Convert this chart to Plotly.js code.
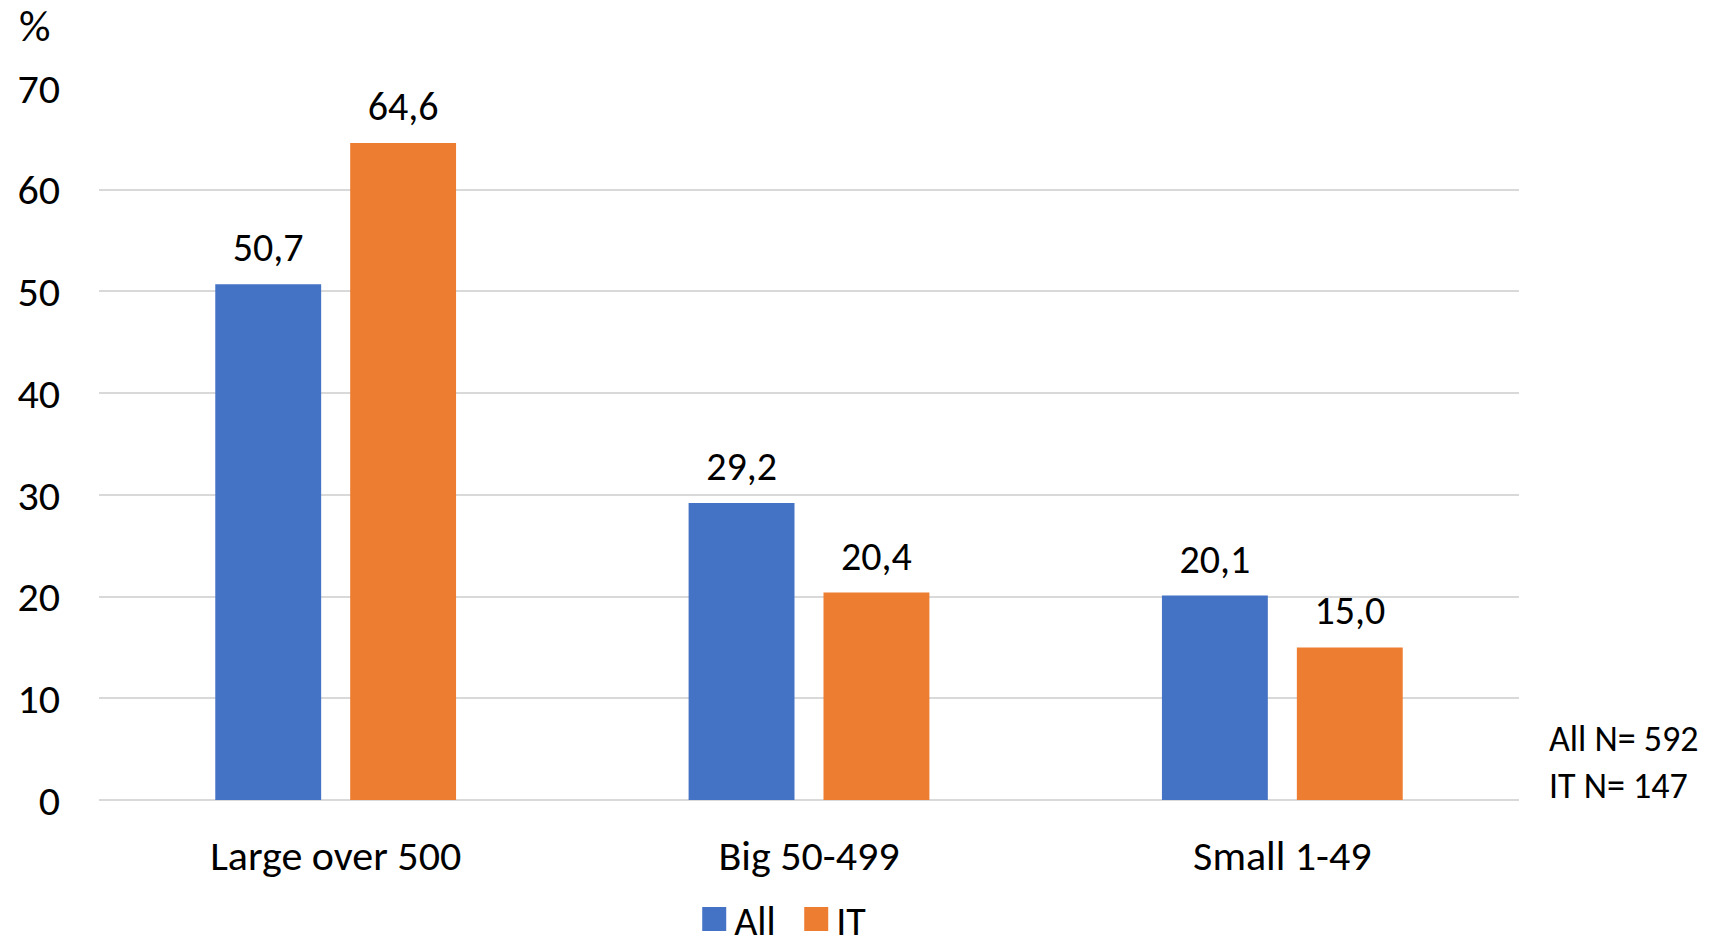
<!DOCTYPE html>
<html>
<head>
<meta charset="utf-8">
<script src="https://cdn.plot.ly/plotly-3.0.1.min.js"></script>
<style>html,body{margin:0;padding:0;background:#fff;}#chart{width:1709px;height:946px;}</style>
</head>
<body>
<div id="chart"></div>
<script>
const categories = ["Large over 500", "Big 50-499", "Small 1-49"];
const allValues = [50.7, 29.2, 20.1];
const itValues = [64.6, 20.4, 15.0];
const seriesNames = ["All", "IT"];
const yTicks = [0, 10, 20, 30, 40, 50, 60, 70];
const noteText = "All N= 592<br>IT N= 147";

const FONT = "Carlito, Calibri, Lato, 'Open Sans', sans-serif";
const FS = 42;
const traces = [
  {type: "bar", name: seriesNames[0], x: categories, y: allValues,
   marker: {color: "#4472C4"}, texttemplate: "%{y:.1f}", textposition: "outside",
   cliponaxis: false, textfont: {size: 40, color: "#000", family: FONT}},
  {type: "bar", name: seriesNames[1], x: categories, y: itValues,
   marker: {color: "#ED7D31"}, texttemplate: "%{y:.1f}", textposition: "outside",
   cliponaxis: false, textfont: {size: 40, color: "#000", family: FONT}}
];
const layout = {
  width: 1709, height: 946,
  separators: ", ",
  margin: {l: 99, r: 190, t: 88, b: 146, autoexpand: false},
  paper_bgcolor: "#fff", plot_bgcolor: "#fff",
  font: {family: FONT, size: FS, color: "#000"},
  barmode: "group", bargap: 0.43, bargroupgap: 0.215,
  showlegend: true,
  legend: {orientation: "h", x: 0.491, xanchor: "center", y: -0.167, yanchor: "middle",
           entrywidth: 57, font: {size: 40, family: FONT}, traceorder: "normal"},
  xaxis: {type: "category", showgrid: false, showline: false, ticks: "", automargin: false,
          ticklabelstandoff: 27, tickfont: {size: FS, family: FONT}},
  yaxis: {range: [0, 70], tickvals: yTicks, showgrid: true, gridcolor: "#d9d9d9", gridwidth: 2,
          zeroline: true, zerolinecolor: "#d9d9d9", zerolinewidth: 2, showline: false, automargin: false,
          ticks: "", ticklabelstandoff: 38, tickfont: {size: FS, family: FONT}},
  annotations: [
    {text: "%", xref: "paper", yref: "paper", x: -0.058, y: 1.087, xanchor: "left", yanchor: "middle",
     showarrow: false, font: {size: 44, family: FONT}},
    {text: noteText, xref: "paper", yref: "paper", x: 1.02, y: 0.053, xanchor: "left", yanchor: "middle",
     align: "left", showarrow: false, font: {size: 36, family: FONT}}
  ]
};
Plotly.newPlot("chart", traces, layout, {displayModeBar: false, staticPlot: true}).then(function (gd) {
  gd.querySelectorAll(".legendpoints path").forEach(function (p) {
    p.setAttribute("d", "M12,12H-12V-12H12Z");
  });
  gd.querySelectorAll("text.bartext").forEach(function (t) {
    const tr = t.getAttribute("transform") || "";
    t.setAttribute("transform", "translate(0,-9) " + tr);
  });
});
</script>
</body>
</html>
